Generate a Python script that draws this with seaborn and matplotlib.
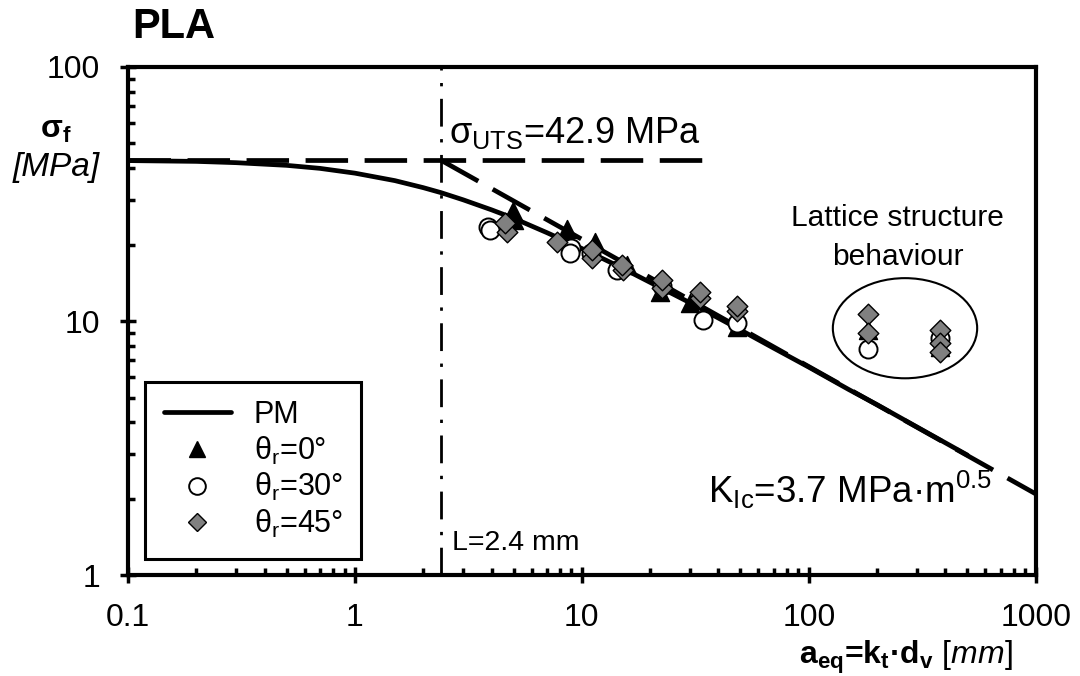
import numpy as np
import pandas as pd
import seaborn as sns
import matplotlib.pyplot as plt
from matplotlib.lines import Line2D
from matplotlib.patches import Ellipse
from matplotlib.ticker import LogLocator, NullFormatter

# PM curve
pm_a = [0.1, 0.2, 0.3, 0.5, 0.7, 1, 1.5, 2, 2.4, 3, 4, 5, 7, 10, 15, 20, 30, 50, 70, 100, 150, 200, 300, 500]
pm_sigma = [42.8, 42.5, 42.0, 41.0, 39.9, 38.2, 35.7, 33.5, 32.0, 30.0, 27.4, 25.4, 22.3, 19.3, 16.2, 14.2,
            11.8, 9.23, 7.83, 6.59, 5.38, 4.69, 3.83, 2.97]

# UTS and LEFM lines
uts_a = [0.1, 40]
uts_sigma = [42.9, 42.9]
lefm_a = [2.4, 1000]
lefm_sigma = [42.9, 2.09]
L_crit = 2.4

# experimental points
t0_a = [4.97, 5.0, 8.6, 8.6, 11.4, 15.8, 22.1, 29.9, 48.2, 182, 378]
t0_sigma = [27.0, 25.0, 23.0, 21.5, 20.5, 16.6, 13.0, 11.8, 9.5, 9.2, 7.9]
t30_a = [3.86, 3.95, 9.0, 8.9, 11.0, 14.3, 22.5, 34.1, 48.5, 182, 378]
t30_sigma = [23.4, 22.8, 19.4, 18.5, 18.5, 15.9, 13.8, 10.1, 9.8, 7.8, 8.6]
t45_a = [4.68, 4.6, 7.8, 11.1, 11.1, 15.2, 15.0, 22.6, 22.6, 33.1, 33.1, 48.2, 48.2, 182, 182, 378, 378, 378]
t45_sigma = [22.4, 24.3, 20.5, 17.7, 19.0, 15.9, 16.6, 13.5, 14.5, 12.3, 13.0, 11.0, 11.5, 10.7, 8.97,
             9.2, 8.2, 7.55]

sns.set_style("ticks")
plt.rcParams['font.family'] = ['Liberation Sans', 'DejaVu Sans']
plt.rcParams['mathtext.fontset'] = 'custom'
plt.rcParams['mathtext.rm'] = 'Liberation Sans'
plt.rcParams['mathtext.it'] = 'Liberation Sans:italic'
plt.rcParams['mathtext.bf'] = 'Liberation Sans:bold'
for key in ['text.color', 'axes.labelcolor', 'xtick.color', 'ytick.color', 'axes.edgecolor']:
    plt.rcParams[key] = 'black'

fig, ax = plt.subplots(figsize=(10.8, 6.76), dpi=100)
fig.subplots_adjust(left=0.1185, right=0.959, bottom=0.149, top=0.901)

lw = 3.4
ax.axvline(L_crit, color='black', lw=2, linestyle=(0, (10, 4.5, 1.2, 4.5)), zorder=2)
sns.lineplot(x=uts_a, y=uts_sigma, ax=ax, color='black', lw=lw, linestyle=(0, (9, 3.5)),
             sort=False, estimator=None, zorder=2)
sns.lineplot(x=lefm_a, y=lefm_sigma, ax=ax, color='black', lw=lw, linestyle=(0, (9, 3.5)),
             sort=False, estimator=None, zorder=2)
sns.lineplot(x=pm_a, y=pm_sigma, ax=ax, color='black', lw=lw, sort=False, estimator=None, zorder=3)

sns.scatterplot(x=t0_a, y=t0_sigma, ax=ax, marker='^', color='black', s=13 ** 2,
                edgecolor='black', linewidth=1, zorder=4)
sns.scatterplot(x=t30_a, y=t30_sigma, ax=ax, marker='o', color='white', s=13 ** 2,
                edgecolor='black', linewidth=1.4, zorder=5)
sns.scatterplot(x=t45_a, y=t45_sigma, ax=ax, marker='D', color='#808080', s=10.5 ** 2,
                edgecolor='black', linewidth=1, zorder=6)

ax.set_xscale('log')
ax.set_yscale('log')
ax.set_xlim(0.1, 1000)
ax.set_ylim(1, 100)
ax.set_xticks([0.1, 1, 10, 100, 1000], labels=['0.1', '1', '10', '100', '1000'])
ax.set_yticks([1, 10, 100], labels=['1', '10', '100'])
for axis in (ax.xaxis, ax.yaxis):
    axis.set_minor_locator(LogLocator(base=10, subs=np.arange(2, 10)))
    axis.set_minor_formatter(NullFormatter())
ax.tick_params(which='major', direction='inout', length=12, width=2.5, pad=14, labelsize=23, color='black')
ax.tick_params(which='minor', direction='in', length=5, width=2.5, color='black')
for sp in ax.spines.values():
    sp.set_linewidth(3)

# labels
fig.text(0.122, 0.96, 'PLA', fontsize=30, fontweight='bold', ha='left', va='center')
ax.text(-0.079, 0.876, r'$\mathbf{\sigma_f}$', transform=ax.transAxes, fontsize=23, ha='center', va='center')
ax.text(-0.079, 0.803, '[MPa]', transform=ax.transAxes, fontsize=24, style='italic', ha='center', va='center')
ax.set_xlabel(r'a$_\mathregular{eq}$=k$_\mathregular{t}$·d$_\mathregular{v}$ $\mathit{[mm]}$',
              fontsize=23, fontweight='bold', ha='right', va='center')
ax.xaxis.set_label_coords(0.975, -0.161)

ax.text(2.6, 55, r'σ$_\mathregular{UTS}$=42.9 MPa', fontsize=26, ha='left', va='center')
ax.text(2.67, 1.34, 'L=2.4 mm', fontsize=20.5, ha='left', va='center')
ax.text(640, 2.16, r'K$_\mathregular{Ic}$=3.7 MPa·m$^\mathregular{0.5}$', fontsize=26.5, ha='right', va='center')
ax.text(247, 21.4, 'Lattice structure\nbehaviour', fontsize=21.5, ha='center', va='center', linespacing=1.5)
ax.add_patch(Ellipse((0.856, 0.486), 0.159, 0.197, transform=ax.transAxes, fill=False,
                     edgecolor='black', lw=1.5, zorder=3))

handles = [
    Line2D([], [], color='black', lw=lw, label='PM'),
    Line2D([], [], marker='^', ls='none', color='black', ms=12, label=r'θ$_\mathregular{r}$=0°'),
    Line2D([], [], marker='o', ls='none', markerfacecolor='white', markeredgecolor='black',
           markeredgewidth=1.4, ms=12, label=r'θ$_\mathregular{r}$=30°'),
    Line2D([], [], marker='D', ls='none', markerfacecolor='#808080', markeredgecolor='black',
           ms=9.5, label=r'θ$_\mathregular{r}$=45°'),
]
leg = ax.legend(handles=handles, loc='lower left', bbox_to_anchor=(0.019, 0.033), borderaxespad=0,
                fontsize=22, frameon=True, fancybox=False, framealpha=1, edgecolor='black',
                handlelength=2.2, handletextpad=0.75, labelspacing=0.15, borderpad=0.6)
leg.get_frame().set_linewidth(2.2)

fig.savefig('out.png', dpi=100)
